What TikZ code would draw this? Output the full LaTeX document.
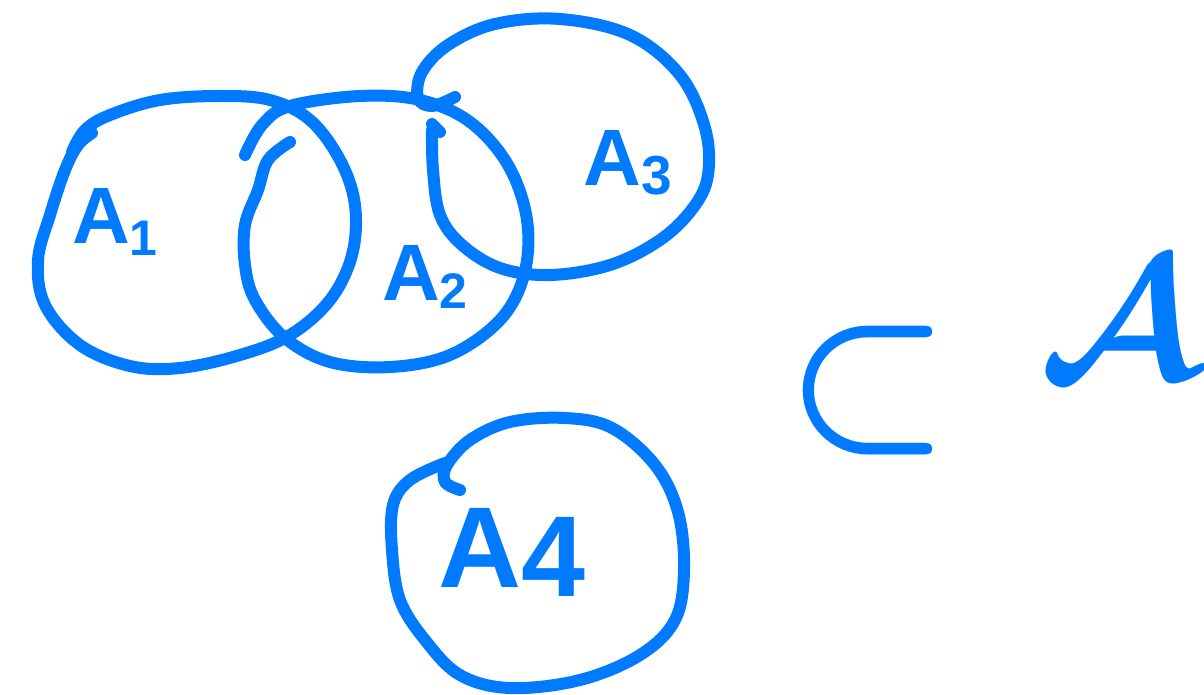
\documentclass[tikz,border=0pt]{standalone}
\usepackage{fontspec}
\usepackage{amsmath}
\setmainfont{Liberation Sans}
\definecolor{inkblue}{RGB}{0,122,255}
\begin{document}
\begin{tikzpicture}[x=1pt,y=-1pt,
  ink/.style={draw=inkblue,line width=12pt,line cap=round,line join=round},
  lbl/.style={text=inkblue,font=\bfseries\fontsize{80}{80}\selectfont,inner sep=0pt}]
\useasboundingbox (0,0) rectangle (1204,695);
\clip (0,0) rectangle (1204,695);
% A1 loop
\draw[ink] plot[smooth,tension=0.6] coordinates {(92,133)(78,145)(65,170)(50,215)(38,260)(45,305)(80,345)(130,366)(180,368)(240,355)(290,335)(330,300)(352,255)(355,205)(340,160)(310,120)(270,100)(220,96)(160,100)(110,115)(85,130)(72,152)};
% A2 loop
\draw[ink] plot[smooth,tension=0.6] coordinates {(245,155)(262,125)(290,106)(360,96)(420,100)(470,122)(508,165)(527,220)(524,275)(500,320)(450,355)(390,367)(330,362)(285,338)(255,300)(245,265)(245,225)(258,190)(268,160)(290,142)};
% A3 loop
\draw[ink] plot[smooth,tension=0.6] coordinates {(455,97)(432,106)(418,98)(422,72)(448,45)(495,24)(560,19)(630,35)(680,75)(705,128)(708,175)(693,208)(660,240)(610,265)(550,275)(500,268)(462,245)(440,215)(433,170)(432,130)};
\draw[ink] (432,124) -- (440,132);
% A4 loop
\draw[ink] plot[smooth,tension=0.6] coordinates {(460,490)(445,482)(447,465)(470,440)(510,422)(565,418)(612,428)(655,465)(678,512)(684,570)(675,620)(640,655)(580,680)(510,688)(460,675)(425,640)(400,600)(392,550)(393,505)(410,480)(445,463)};
% labels
\node[lbl] (a1) at (115,222) {A\raisebox{-0.3ex}{\fontsize{50}{50}\selectfont 1}};
\node[lbl] (a2) at (425,277) {A\raisebox{-0.2ex}{\fontsize{50}{50}\selectfont 2}};
\node[lbl] (a3) at (628,163) {A\raisebox{-0.2ex}{\fontsize{55}{55}\selectfont 3}};
\node[lbl,font=\bfseries\fontsize{115}{115}\selectfont] (a4) at (512,552) {A\raisebox{-0.15ex}{4}};
% subset and script A
\node[text=inkblue,inner sep=0pt] (sub) at (868,391) {\resizebox{165pt}{112pt}{\boldmath$\subset$}};
\node[text=inkblue,inner sep=0pt,anchor=east] (cal) at (1200,320) {\resizebox{160pt}{!}{\boldmath$\mathcal{A}$}};
\end{tikzpicture}
\end{document}
